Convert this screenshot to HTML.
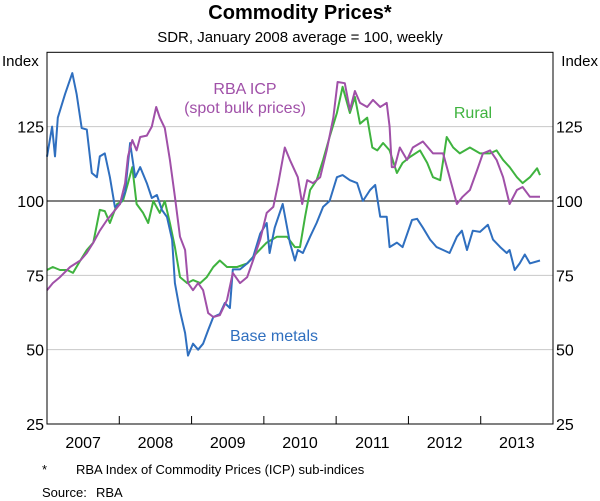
<!DOCTYPE html>
<html><head><meta charset="utf-8"><style>
body{margin:0;background:#fff;}
svg{display:block;font-family:"Liberation Sans",Arial,sans-serif;}
</style></head><body>
<svg id="chart" width="600" height="501" viewBox="0 0 600 501">
<text x="300" y="19" text-anchor="middle" font-size="20" font-weight="bold">Commodity Prices*</text>
<text x="300" y="42" text-anchor="middle" font-size="15">SDR, January 2008 average = 100, weekly</text>
<text x="2" y="66" font-size="15">Index</text>
<text x="598" y="66" font-size="15" text-anchor="end">Index</text>
<g id="grid"></g>
<g id="series"></g>
<rect x="47" y="52.3" width="506" height="371.7" fill="none" stroke="#000" stroke-width="1"/>
<g id="axes"></g>
<text x="245" y="94" text-anchor="middle" font-size="16" fill="#a050a8">RBA ICP</text>
<text x="245" y="113" text-anchor="middle" font-size="16" fill="#a050a8">(spot bulk prices)</text>
<text x="473" y="118" text-anchor="middle" font-size="16" fill="#3fb33f">Rural</text>
<text x="274" y="341" text-anchor="middle" font-size="16" fill="#2f6fbf">Base metals</text>
<text x="42" y="474" font-size="13">*</text>
<text x="76" y="474" font-size="13">RBA Index of Commodity Prices (ICP) sub-indices</text>
<text x="42" y="497" font-size="13">Source:</text>
<text x="96" y="497" font-size="13">RBA</text>
</svg>
<script>
const yTicks=[25,50,75,100,125];
const years=["2007","2008","2009","2010","2011","2012","2013"];
const baseT=[0,.07,.11,.15,.25,.35,.41,.48,.55,.62,.69,.73,.80,.87,.94,1.01,1.08,1.15,1.22,1.29,1.38,1.45,1.52,1.59,1.66,1.73,1.77,1.84,1.91,1.95,2.02,2.09,2.16,2.23,2.30,2.39,2.46,2.53,2.57,2.67,2.77,2.85,2.95,3.04,3.08,3.15,3.26,3.36,3.43,3.47,3.54,3.64,3.73,3.82,3.91,4.01,4.09,4.19,4.29,4.37,4.47,4.54,4.61,4.70,4.74,4.84,4.92,5.05,5.12,5.20,5.30,5.39,5.48,5.57,5.67,5.74,5.81,5.89,5.99,6.10,6.17,6.27,6.36,6.40,6.47,6.54,6.61,6.68,6.82];
const baseV=[114.9,125,115,128,136,143,136,124.5,124,109.4,108,115,116,108,98,99,103,119.5,108,111.4,106,101,102,97,94.6,87,72.4,63,55.6,48,52,50,52,56.6,61,62,65.7,64,77,77,79,81,89,92.6,82.5,91,99,86,80,83.5,82.5,88,92.6,98,100,108,108.7,107,106,100,103.7,105.4,94.7,94.7,84.5,86,84.5,93.6,94,91,87,84.5,83.5,82.5,88,90,83.5,90,89.6,92,87,84.5,82.5,83.5,76.8,79,82,79,80];
const icpT=[0,.08,.18,.32,.46,.55,.64,.73,.83,.91,1.01,1.08,1.12,1.18,1.24,1.29,1.38,1.45,1.51,1.56,1.63,1.70,1.77,1.84,1.91,1.95,2.02,2.09,2.16,2.23,2.30,2.39,2.49,2.57,2.67,2.77,2.85,2.95,3.04,3.13,3.20,3.29,3.36,3.47,3.53,3.60,3.68,3.78,3.87,3.96,4.02,4.12,4.19,4.26,4.33,4.43,4.51,4.61,4.70,4.74,4.77,4.81,4.88,4.98,5.06,5.20,5.34,5.48,5.57,5.67,5.75,5.85,5.95,6.03,6.13,6.22,6.31,6.40,6.50,6.58,6.68,6.78,6.82];
const icpV=[70,72.4,74.4,77.8,80,82.5,86,90,93.6,96,99,106,115,120.5,117,121.5,122,125,131.6,128,124.5,113.8,101.4,88,83.5,72.4,70,72.4,70,62.3,61,61.6,66.7,75.8,72.4,74.4,80,87,96,98,106,118,113.8,108,99,107,106,108,117,128,140,139.6,130.6,137,133,131.6,134,131.6,133,125,111.4,111.4,118,113.8,118,120,116,116,108,99,101.4,103.7,110.4,116,117,113.8,108,99,103.7,104.7,101.4,101.4,101.4];
const ruralT=[0,.08,.18,.28,.36,.46,.55,.64,.73,.80,.87,.97,1.05,1.12,1.18,1.24,1.33,1.40,1.47,1.56,1.63,1.70,1.77,1.84,1.94,2.02,2.12,2.21,2.30,2.39,2.49,2.63,2.77,2.90,3.04,3.18,3.32,3.43,3.50,3.57,3.64,3.73,3.82,3.91,4.01,4.09,4.19,4.26,4.33,4.43,4.50,4.57,4.65,4.74,4.84,4.92,5.02,5.16,5.26,5.34,5.44,5.53,5.62,5.71,5.85,5.99,6.13,6.22,6.31,6.40,6.50,6.58,6.68,6.78,6.82];
const ruralV=[76.8,77.8,76.8,76.8,75.8,80,83.5,86,97,96.6,92.6,99,100,106,111.4,99,96,92.6,100,96,100,92.6,84.5,74.4,72.4,73.4,72.4,74.4,77.8,80,77.8,77.8,79,82.5,86,88,88,84.5,84.5,94.7,103.7,107,113.8,121.5,129.6,138.4,129.6,135,126,128,118,117,119.5,117,109.4,112.8,114.8,117,112.8,108,107,121.5,118,116,118,116,116,117,113.8,111.4,108,106,108,111,108.7];
const NS="http://www.w3.org/2000/svg";
const L=47,R=553,T=52.3,B=424,Y0=2007,Y1=2014,V0=25,V1=150;
function xs(t){return L+(t)/(Y1-Y0)*(R-L);}
function ys(v){return B-(v-V0)/(V1-V0)*(B-T);}
const grid=document.getElementById('grid'),axes=document.getElementById('axes'),ser=document.getElementById('series');
yTicks.forEach(v=>{
  if(v!==25){
    const ln=document.createElementNS(NS,'line');
    ln.setAttribute('x1',L);ln.setAttribute('x2',R);ln.setAttribute('y1',ys(v));ln.setAttribute('y2',ys(v));
    ln.setAttribute('stroke',v===100?'#000':'#c8c8c8');ln.setAttribute('stroke-width','1');
    
    
    grid.appendChild(ln);
  }
  const a=document.createElementNS(NS,'text');
  a.setAttribute('x',L-3);a.setAttribute('y',ys(v)+6);a.setAttribute('text-anchor','end');a.setAttribute('font-size','16');
  a.textContent=v;
  
  
  axes.appendChild(a);
  const b=document.createElementNS(NS,'text');
  b.setAttribute('x',R+3);b.setAttribute('y',ys(v)+6);b.setAttribute('font-size','16');
  b.textContent=v;
  
  
  axes.appendChild(b);
});
years.forEach((y,i)=>{
  if(i>0){
    const tk=document.createElementNS(NS,'line');
    tk.setAttribute('x1',xs(i));tk.setAttribute('x2',xs(i));tk.setAttribute('y1',B);tk.setAttribute('y2',B-8);
    tk.setAttribute('stroke','#000');
    
    
    axes.appendChild(tk);
  }
  const tx=document.createElementNS(NS,'text');
  tx.setAttribute('x',xs(i+0.5));tx.setAttribute('y',448);tx.setAttribute('text-anchor','middle');tx.setAttribute('font-size','16');
  tx.textContent=y;
  
  
  axes.appendChild(tx);
});
function line(T,V,color,name){
  const p=document.createElementNS(NS,'path');
  p.setAttribute('d',T.map((t,i)=>(i?'L':'M')+xs(t).toFixed(1)+','+ys(V[i]).toFixed(1)).join(''));
  p.setAttribute('fill','none');p.setAttribute('stroke',color);p.setAttribute('stroke-width','2');p.setAttribute('stroke-linejoin','round');
  
  
  ser.appendChild(p);
}
line(ruralT,ruralV,'#3fb33f','rural-line');
line(baseT,baseV,'#2f6fbf','base-metals-line');
line(icpT,icpV,'#a050a8','rba-icp-line');
</script>
</body></html>
